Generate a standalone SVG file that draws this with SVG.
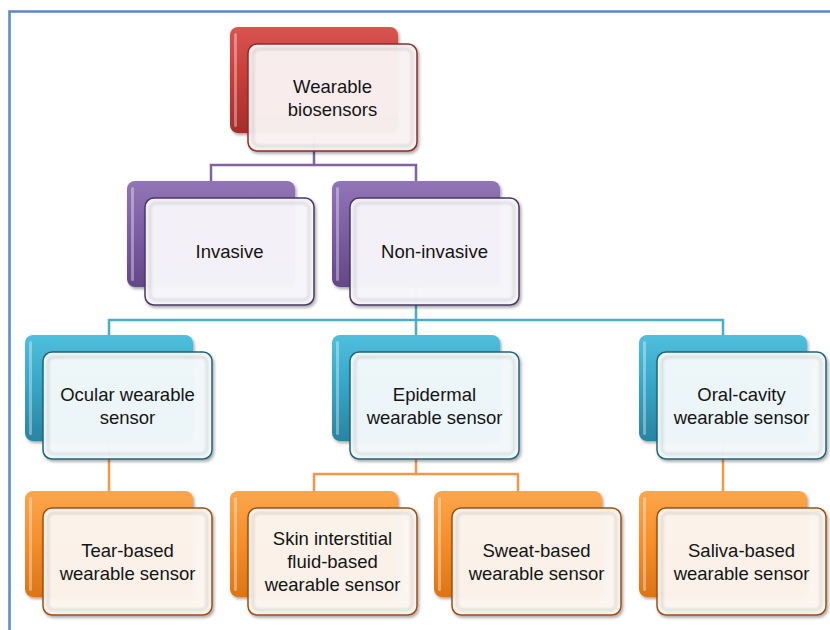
<svg xmlns="http://www.w3.org/2000/svg" width="830" height="630" viewBox="0 0 830 630">
<defs>
<linearGradient id="gRed" x1="0" y1="0" x2="0" y2="1"><stop offset="0" stop-color="#d9544f"/><stop offset="0.5" stop-color="#c63c37"/><stop offset="1" stop-color="#a62e2a"/></linearGradient>
<linearGradient id="gPur" x1="0" y1="0" x2="0" y2="1"><stop offset="0" stop-color="#9175b6"/><stop offset="0.5" stop-color="#7b5da2"/><stop offset="1" stop-color="#634888"/></linearGradient>
<linearGradient id="gCya" x1="0" y1="0" x2="0" y2="1"><stop offset="0" stop-color="#4fbfdc"/><stop offset="0.5" stop-color="#36a4c5"/><stop offset="1" stop-color="#2885a1"/></linearGradient>
<linearGradient id="gOra" x1="0" y1="0" x2="0" y2="1"><stop offset="0" stop-color="#fca64b"/><stop offset="0.5" stop-color="#f68d29"/><stop offset="1" stop-color="#db7515"/></linearGradient>
<filter id="sh" x="-10%" y="-10%" width="125%" height="130%"><feDropShadow dx="1.5" dy="2" stdDeviation="1.5" flood-color="#000" flood-opacity="0.35"/></filter>
<filter id="bl" x="-5%" y="-5%" width="110%" height="110%"><feGaussianBlur stdDeviation="1.2"/></filter>
</defs>
<style>
.back{stroke:none;filter:url(#sh)}
.red{fill:url(#gRed)}
.pur{fill:url(#gPur)}
.cya{fill:url(#gCya)}
.ora{fill:url(#gOra)}
.hl{fill:#fff;fill-opacity:0.35}
.front{stroke-width:1.5;filter:url(#sh)}
.fRed{fill:#fbf2f2;fill-opacity:0.96;stroke:#8c2f2c}
.fPur{fill:#f8f7fb;fill-opacity:0.96;stroke:#4a3863}
.fCya{fill:#f2f9fb;fill-opacity:0.96;stroke:#22657a}
.fOra{fill:#fdf6ef;fill-opacity:0.96;stroke:#9c5019}
.bevel{fill:none;stroke:#000;stroke-opacity:0.09;stroke-width:3;filter:url(#bl)}
.lbl{font-family:"Liberation Sans",Arial,sans-serif;font-size:18.5px;fill:#141414;text-anchor:middle}
.con{fill:none;stroke-width:2.5}
.cPur{stroke:#8064a2}
.cCya{stroke:#4bacc6}
.cOra{stroke:#f79646}
</style>
<rect width="830" height="630" fill="#fff"/>
<path d="M9.5,630 V11.5 H830" fill="none" stroke="#5a87c6" stroke-width="2.5"/>
<g id="connectors">
<path class="con cPur" d="M314,133 V165 M211,181 V165 H416 V181"/>
<path class="con cCya" d="M416,287 V335 M109,335 V320 H723 V335"/>
<path class="con cOra" d="M109,441 V491 M416,441 V474 M314,491 V474 H518 V491 M723,441 V491"/>
</g>
<g id="n-wearable">
<rect class="back red" x="230" y="27" width="168" height="106" rx="8"/>
<rect class="hl" x="234" y="33" width="3" height="94" rx="1.5"/>
<rect class="front fRed" x="248" y="44" width="169" height="107" rx="9"/>
<rect class="bevel" x="253" y="49" width="159" height="97" rx="6"/>
<text class="lbl" x="332.5" y="92.5">Wearable</text>
<text class="lbl" x="332.5" y="115.5">biosensors</text>
</g>
<g id="n-invasive">
<rect class="back pur" x="127" y="181" width="168" height="106" rx="8"/>
<rect class="hl" x="131" y="187" width="3" height="94" rx="1.5"/>
<rect class="front fPur" x="145" y="198" width="169" height="107" rx="9"/>
<rect class="bevel" x="150" y="203" width="159" height="97" rx="6"/>
<text class="lbl" x="229.5" y="258">Invasive</text>
</g>
<g id="n-noninvasive">
<rect class="back pur" x="332" y="181" width="168" height="106" rx="8"/>
<rect class="hl" x="336" y="187" width="3" height="94" rx="1.5"/>
<rect class="front fPur" x="350" y="198" width="169" height="107" rx="9"/>
<rect class="bevel" x="355" y="203" width="159" height="97" rx="6"/>
<text class="lbl" x="434.5" y="258">Non-invasive</text>
</g>
<g id="n-ocular">
<rect class="back cya" x="25" y="335" width="168" height="106" rx="8"/>
<rect class="hl" x="29" y="341" width="3" height="94" rx="1.5"/>
<rect class="front fCya" x="43" y="352" width="169" height="107" rx="9"/>
<rect class="bevel" x="48" y="357" width="159" height="97" rx="6"/>
<text class="lbl" x="127.5" y="400.5">Ocular wearable</text>
<text class="lbl" x="127.5" y="423.5">sensor</text>
</g>
<g id="n-epidermal">
<rect class="back cya" x="332" y="335" width="168" height="106" rx="8"/>
<rect class="hl" x="336" y="341" width="3" height="94" rx="1.5"/>
<rect class="front fCya" x="350" y="352" width="169" height="107" rx="9"/>
<rect class="bevel" x="355" y="357" width="159" height="97" rx="6"/>
<text class="lbl" x="434.5" y="400.5">Epidermal</text>
<text class="lbl" x="434.5" y="423.5">wearable sensor</text>
</g>
<g id="n-oral">
<rect class="back cya" x="639" y="335" width="168" height="106" rx="8"/>
<rect class="hl" x="643" y="341" width="3" height="94" rx="1.5"/>
<rect class="front fCya" x="657" y="352" width="169" height="107" rx="9"/>
<rect class="bevel" x="662" y="357" width="159" height="97" rx="6"/>
<text class="lbl" x="741.5" y="400.5">Oral-cavity</text>
<text class="lbl" x="741.5" y="423.5">wearable sensor</text>
</g>
<g id="n-tear">
<rect class="back ora" x="25" y="491" width="168" height="106" rx="8"/>
<rect class="hl" x="29" y="497" width="3" height="94" rx="1.5"/>
<rect class="front fOra" x="43" y="508" width="169" height="107" rx="9"/>
<rect class="bevel" x="48" y="513" width="159" height="97" rx="6"/>
<text class="lbl" x="127.5" y="556.5">Tear-based</text>
<text class="lbl" x="127.5" y="579.5">wearable sensor</text>
</g>
<g id="n-skin">
<rect class="back ora" x="230" y="491" width="168" height="106" rx="8"/>
<rect class="hl" x="234" y="497" width="3" height="94" rx="1.5"/>
<rect class="front fOra" x="248" y="508" width="169" height="107" rx="9"/>
<rect class="bevel" x="253" y="513" width="159" height="97" rx="6"/>
<text class="lbl" x="332.5" y="545">Skin interstitial</text>
<text class="lbl" x="332.5" y="568">fluid-based</text>
<text class="lbl" x="332.5" y="591">wearable sensor</text>
</g>
<g id="n-sweat">
<rect class="back ora" x="434" y="491" width="168" height="106" rx="8"/>
<rect class="hl" x="438" y="497" width="3" height="94" rx="1.5"/>
<rect class="front fOra" x="452" y="508" width="169" height="107" rx="9"/>
<rect class="bevel" x="457" y="513" width="159" height="97" rx="6"/>
<text class="lbl" x="536.5" y="556.5">Sweat-based</text>
<text class="lbl" x="536.5" y="579.5">wearable sensor</text>
</g>
<g id="n-saliva">
<rect class="back ora" x="639" y="491" width="168" height="106" rx="8"/>
<rect class="hl" x="643" y="497" width="3" height="94" rx="1.5"/>
<rect class="front fOra" x="657" y="508" width="169" height="107" rx="9"/>
<rect class="bevel" x="662" y="513" width="159" height="97" rx="6"/>
<text class="lbl" x="741.5" y="556.5">Saliva-based</text>
<text class="lbl" x="741.5" y="579.5">wearable sensor</text>
</g>
</svg>
